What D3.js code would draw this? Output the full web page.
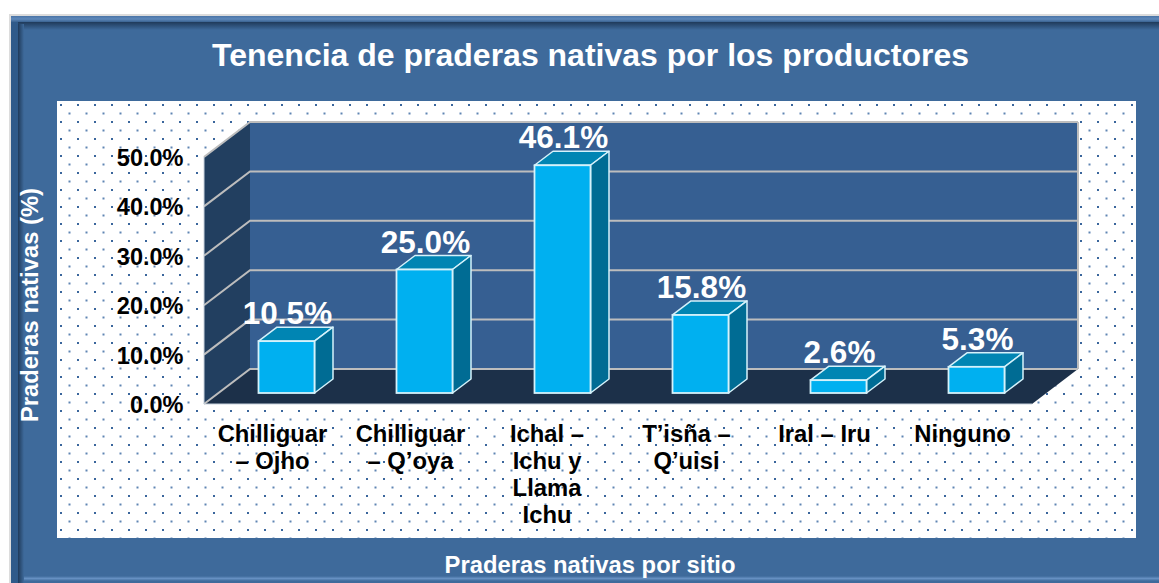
<!DOCTYPE html>
<html><head><meta charset="utf-8">
<script src="https://cdn.jsdelivr.net/npm/d3@7/dist/d3.min.js"></script>
<style>html,body{margin:0;padding:0;background:#fff;overflow:hidden}svg{display:block}text{font-family:"Liberation Sans",Arial,sans-serif;font-weight:700}</style>
</head><body><svg id="c" width="1159" height="583"></svg>
<script>
const chartTitle = "Tenencia de praderas nativas por los productores";
const yTitle = "Praderas nativas (%)";
const xTitle = "Praderas nativas por sitio";
const categories = ["Chilliguar – Ojho","Chilliguar – Q’oya","Ichal – Ichu y Llama Ichu","T’isña – Q’uisi","Iral – Iru","Ninguno"];
const categoryLines = [["Chilliguar","– Ojho"],["Chilliguar","– Q’oya"],["Ichal –","Ichu y","Llama","Ichu"],["T’isña –","Q’uisi"],["Iral – Iru"],["Ninguno"]];
const values = [10.5,25.0,46.1,15.8,2.6,5.3];
const valueLabels = ["10.5%","25.0%","46.1%","15.8%","2.6%","5.3%"];
const yTicks = [0,10,20,30,40,50];

const svg = d3.select("#c");
const defs = svg.append("defs");
const pat = defs.append("pattern").attr("id","dots").attr("patternUnits","userSpaceOnUse")
  .attr("x",57).attr("y",101).attr("width",17).attr("height",17);
pat.append("rect").attr("width",17).attr("height",17).attr("fill","#fff");
pat.append("rect").attr("x",3).attr("y",3).attr("width",2).attr("height",2).attr("fill","#3a669c");
pat.append("rect").attr("x",11.5).attr("y",11.5).attr("width",2).attr("height",2).attr("fill","#5f86b3");

function grad(id,x2,y2,stops){
  const l = defs.append("linearGradient").attr("id",id).attr("x1",0).attr("y1",0).attr("x2",x2).attr("y2",y2);
  stops.forEach(s=>l.append("stop").attr("offset",s[0]).attr("stop-color",s[1]));
}
const BG = "#3E6A9B";
grad("fadeL",1,0,[[0,"#1f3a5a"],[1,BG]]);
grad("fadeT",0,1,[[0,"#1f3a5a"],[1,BG]]);
grad("bandT",0,1,[[0,"#4a74a6"],[0.5,"#5f89bb"],[1,"#3a6391"]]);
grad("bandB",0,1,[[0,BG],[0.5,"#6690c2"],[1,BG]]);

// frame
svg.append("rect").attr("x",9).attr("y",14).attr("width",1150).attr("height",569).attr("fill","#dcdcdc");
svg.append("rect").attr("x",11).attr("y",16).attr("width",1148).attr("height",567).attr("fill","#2f5a8a");
svg.append("rect").attr("x",11).attr("y",16).attr("width",1148).attr("height",6).attr("fill","url(#bandT)");
svg.append("rect").attr("x",18).attr("y",24).attr("width",1141).attr("height",559).attr("fill",BG);
svg.append("rect").attr("x",18).attr("y",22).attr("width",1141).attr("height",8).attr("fill","url(#fadeT)");
svg.append("rect").attr("x",18).attr("y",24).attr("width",6).attr("height",559).attr("fill","url(#fadeL)");
svg.append("rect").attr("x",24).attr("y",576).attr("width",1135).attr("height",5).attr("fill","url(#bandB)");

// plot panel
svg.append("rect").attr("x",57).attr("y",101).attr("width",1079).attr("height",437).attr("fill","url(#dots)");

// title
svg.append("text").attr("x",590.5).attr("y",66).attr("text-anchor","middle").attr("fill","#fff").attr("font-size",32).text(chartTitle);

// scales
const x = d3.scaleBand().domain(categories).range([204,1032]);
const y = d3.scaleLinear().domain([0,50]).range([404,157]);
const dx = 46, dy = -35;       // depth of the box
const barW = 56, bdx = 18.5, bdy = -14, barOffX = 13.5, barOffY = -11;

const g = svg.append("g");
const pts = a => a.map(p=>p.join(",")).join(" ");
const gridC = "#BDBDBD";
g.append("rect").attr("x",x.range()[0]+dx).attr("y",y(50)+dy).attr("width",x.range()[1]-x.range()[0]).attr("height",y(0)-y(50)).attr("fill","#365F92");
g.append("polygon").attr("points",pts([[204,y(0)],[204,y(50)],[204+dx,y(50)+dy],[204+dx,y(0)+dy]])).attr("fill","#223F60");
g.append("polygon").attr("points",pts([[204,y(0)],[1032,y(0)],[1032+dx,y(0)+dy],[204+dx,y(0)+dy]])).attr("fill","#1C3049");
yTicks.forEach(t=>{
  g.append("polyline").attr("fill","none").attr("stroke",gridC).attr("stroke-width",2)
   .attr("points",pts([[204,y(t)],[204+dx,y(t)+dy],[1032+dx,y(t)+dy]]));
});
g.append("line").attr("x1",1032+dx).attr("x2",1032+dx).attr("y1",y(50)+dy).attr("y2",y(0)+dy).attr("stroke",gridC).attr("stroke-width",2);
g.append("line").attr("x1",204).attr("x2",1032).attr("y1",y(0)).attr("y2",y(0)).attr("stroke","#c9d3de").attr("stroke-width",1);
g.append("line").attr("x1",204).attr("x2",204).attr("y1",y(0)).attr("y2",y(50)).attr("stroke","#c9d3de").attr("stroke-width",1);

// bars
const bars = g.selectAll(".bar").data(categories.map((c,i)=>({c,v:values[i],l:valueLabels[i]}))).join("g").attr("class","bar");
const bl = d => x(d.c)+x.bandwidth()/2-barW/2+barOffX;
const base = y(0)+barOffY;
const topY = d => base-(y(0)-y(d.v));
const st = "#D5F2FB";
bars.append("polygon").attr("fill","#0085B3").attr("stroke",st).attr("stroke-width",1.5).attr("stroke-linejoin","round")
 .attr("points",d=>pts([[bl(d),topY(d)],[bl(d)+barW,topY(d)],[bl(d)+barW+bdx,topY(d)+bdy],[bl(d)+bdx,topY(d)+bdy]]));
bars.append("polygon").attr("fill","#006C94").attr("stroke",st).attr("stroke-width",1.5).attr("stroke-linejoin","round")
 .attr("points",d=>pts([[bl(d)+barW,topY(d)],[bl(d)+barW+bdx,topY(d)+bdy],[bl(d)+barW+bdx,base+bdy],[bl(d)+barW,base]]));
bars.append("rect").attr("fill","#00B0F0").attr("stroke",st).attr("stroke-width",1.8)
 .attr("x",bl).attr("y",topY).attr("width",barW).attr("height",d=>base-topY(d));
bars.append("text").attr("text-anchor","middle").attr("fill","#fff").attr("font-size",31.5)
 .attr("x",d=>bl(d)+barW/2+1).attr("y",d=>topY(d)+bdy-3).text(d=>d.l);

// y axis
const ax = svg.append("g").attr("transform","translate(183.5,0)")
  .call(d3.axisLeft(y).tickValues(yTicks).tickSize(0).tickPadding(0).tickFormat(d=>d3.format(".1f")(d)+"%"));
ax.select(".domain").remove();
ax.selectAll("text").attr("font-size",23.5).attr("fill","#000").attr("font-family",null).attr("dy","0.36em");

// category labels
const cl = svg.selectAll(".cat").data(categories).join("text").attr("class","cat").attr("text-anchor","middle")
  .attr("fill","#000").attr("font-size",23.8).attr("transform",(d,i)=>`translate(${x(d)+x.bandwidth()/2-(i==2?2:0.5)},442)`);
cl.each(function(d,i){
  d3.select(this).selectAll("tspan").data(categoryLines[i]).join("tspan").attr("x",0).attr("y",(_,k)=>k*27).text(t=>t);
});

// axis titles
svg.append("text").attr("transform","translate(38,305) rotate(-90)").attr("text-anchor","middle").attr("fill","#fff").attr("font-size",23.8).text(yTitle);
svg.append("text").attr("x",590).attr("y",573).attr("text-anchor","middle").attr("fill","#fff").attr("font-size",23.8).text(xTitle);
</script></body></html>
